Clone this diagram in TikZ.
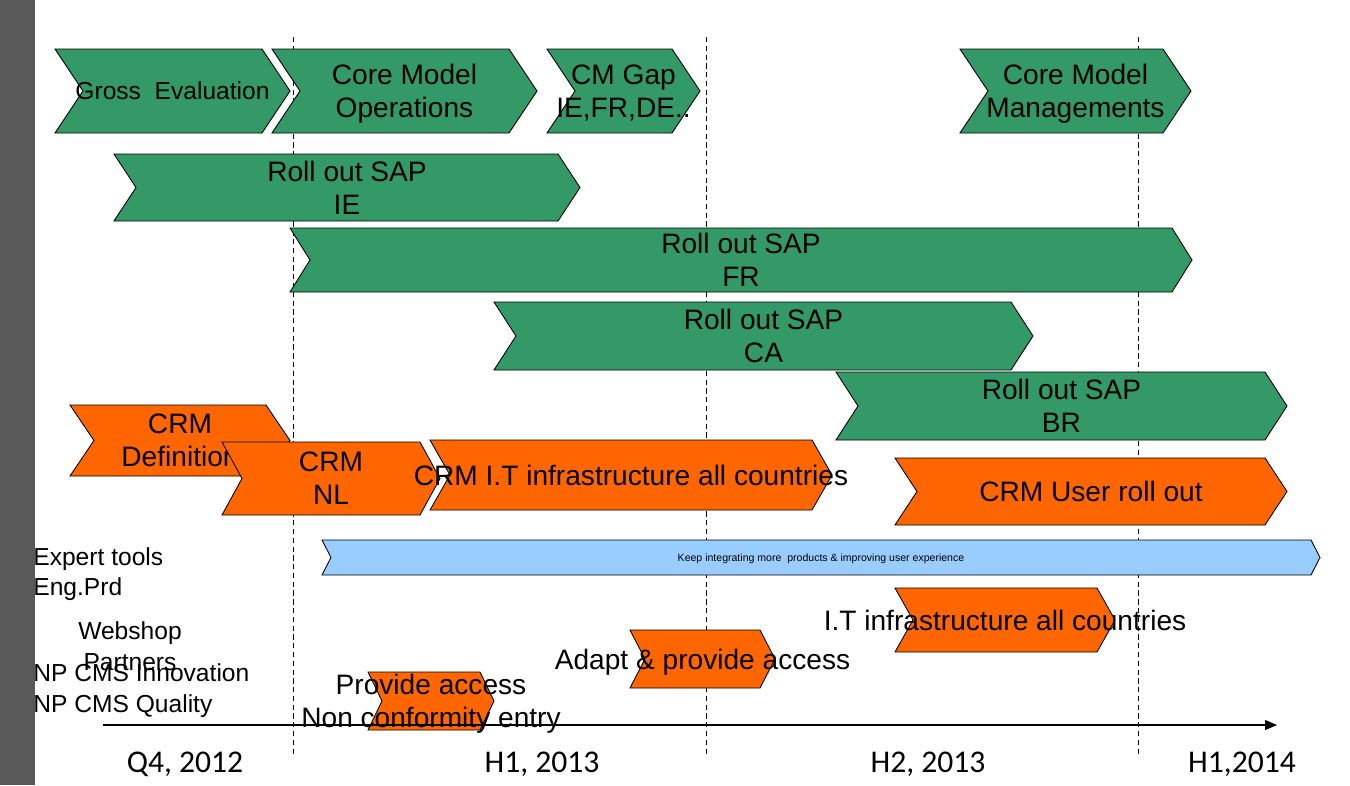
\documentclass[tikz,border=0pt]{standalone}
\usepackage{fontspec}
\setmainfont{Liberation Sans}
\newfontfamily\calibri{Carlito}
\usetikzlibrary{arrows.meta}

\definecolor{sapgreen}{RGB}{51,153,102}
\definecolor{crmorange}{RGB}{255,102,0}
\definecolor{toolblue}{RGB}{153,204,255}
\definecolor{sidegray}{RGB}{89,89,89}

\tikzset{
  greenbar/.style={fill=sapgreen,draw=black,line width=0.5pt},
  orangebar/.style={fill=crmorange,draw=black,line width=0.5pt},
  bluebar/.style={fill=toolblue,draw=black,line width=0.5pt},
  bartext/.style={align=center,inner sep=0pt,text depth=0pt,font=\fontsize{16}{18.8}\selectfont},
  sidelabel/.style={anchor=west,inner sep=0pt,text depth=0pt,font=\fontsize{14}{17}\selectfont},
  datelabel/.style={inner sep=0pt,text depth=0pt,font=\calibri\fontsize{18}{21}\selectfont},
  halfyear/.style={dash pattern=on 3pt off 2pt,line width=0.4pt}
}

% chevron: name, style, left, right, top, bottom, point depth, text
\newcommand{\chevron}[8]{%
  \filldraw[#2] (#3,#5) -- ({#4-#7},#5) -- (#4,{(#5+#6)/2}) -- ({#4-#7},#6)
    -- (#3,#6) -- ({#3+#7},{(#5+#6)/2}) -- cycle;
  \node[bartext] (#1) at ({(#3+#4)/2},{(#5+#6)/2}) {#8};}

\begin{document}
\begin{tikzpicture}[x=0.02cm,y=-0.02cm]
\useasboundingbox (0,0) rectangle (1350,785);

%half year marks
\draw[halfyear] (293,37) -- (293,757);
\draw[halfyear] (706,37) -- (706,757);
\draw[halfyear] (1138,37) -- (1138,757);

%Core model
\chevron{gross}{greenbar}{55}{290}{49}{133}{28}{{\fontsize{14}{17}\selectfont Gross\ \ Evaluation}}
\chevron{cmops}{greenbar}{272}{537}{49}{133}{28}{Core Model\\Operations}
\chevron{cmgap}{greenbar}{547}{700}{49}{133}{28}{CM Gap\\IE,FR,DE..}
\chevron{cmman}{greenbar}{960}{1191}{49}{133}{28}{Core Model\\Managements}

%SAP roll out
\chevron{sapie}{greenbar}{114}{580}{154}{221}{22}{Roll out SAP\\IE}
\chevron{sapfr}{greenbar}{290}{1192}{228}{292}{20}{Roll out SAP\\FR}
\chevron{sapca}{greenbar}{494}{1033}{302}{370}{22}{Roll out SAP\\CA}
\chevron{sapbr}{greenbar}{836}{1287}{372}{440}{22}{Roll out SAP\\BR}

%CRM
\chevron{crmdef}{orangebar}{70}{290}{405}{476}{24}{CRM\\Definition}
\chevron{crmnl}{orangebar}{222}{440}{442}{515}{20}{CRM\\NL}
\chevron{crmit}{orangebar}{430}{832}{440}{510}{20}{CRM I.T infrastructure all countries}
\chevron{crmuser}{orangebar}{895}{1287}{458}{525}{22}{CRM User roll out}

%Expert tools
\chevron{keep}{bluebar}{322}{1320}{540}{575}{9}{{\fontsize{6}{7}\selectfont Keep integrating more\ \ products \& improving user experience}}
\chevron{access}{orangebar}{368}{494}{672}{730}{14}{Provide access\\Non conformity entry}
\chevron{adapt}{orangebar}{630}{775}{630}{688}{15}{Adapt \& provide access}
\chevron{itall}{orangebar}{895}{1115}{588}{652}{18}{I.T infrastructure all countries}

%left labels
\node[sidelabel] (expert) at (33,557) {Expert tools};
\node[sidelabel] (engprd) at (33,587) {Eng.Prd};
\node[sidelabel,anchor=center,align=center,font=\fontsize{14}{17.6}\selectfont] (webshop) at (130,646) {Webshop\\Partners};
\node[sidelabel] (npinno) at (33,673) {NP CMS Innovation};
\node[sidelabel] (npqual) at (33,704) {NP CMS Quality};

%time axis
\coordinate (axisL) at (103,725);
\coordinate (axisR) at (1277,725);
\draw[line width=0.6pt,-{Triangle[length=0.24cm,width=0.2cm]}] (axisL) -- (axisR);

\node[datelabel] (q4) at (185,762) {Q4, 2012};
\node[datelabel] (h1a) at (542,762) {H1, 2013};
\node[datelabel] (h2) at (928,762) {H2, 2013};
\node[datelabel] (h1b) at (1242,762) {H1,2014};

\fill[sidegray] (0,0) rectangle (35,785);

\end{tikzpicture}
\end{document}
